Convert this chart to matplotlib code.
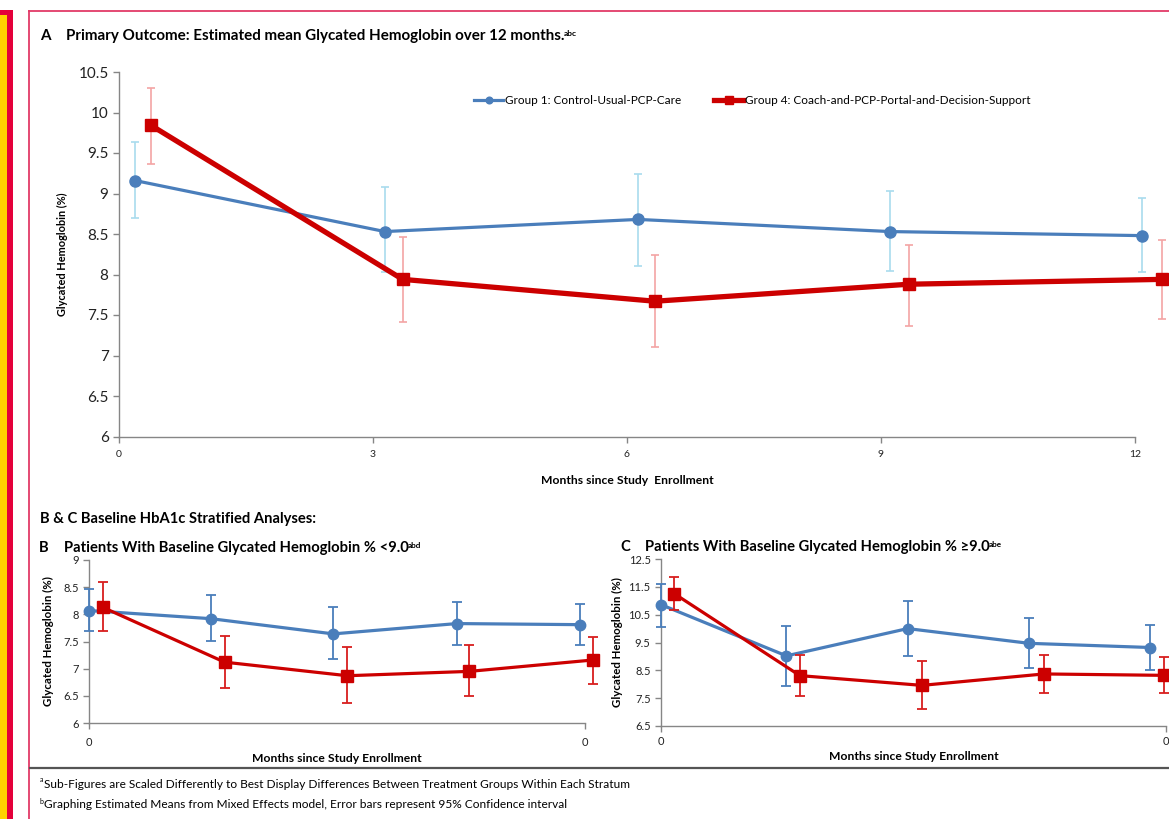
import numpy as np
import matplotlib
matplotlib.use("Agg")
from matplotlib import pyplot as plt
from matplotlib.patches import Rectangle
from matplotlib.lines import Line2D

W = 1169
H = 819
plt.rcParams['font.family'] = ['Lato', 'DejaVu Sans']

# ---------------- data ----------------
Group1_Name = "Group 1: Control-Usual-PCP-Care"
Group4_Name = "Group 4: Coach-and-PCP-Portal-and-Decision-Support"

# Panel A : all patients
monthsA_g1 = [0.19, 3.14, 6.13, 9.11, 12.08]
monthsA_g4 = [0.38, 3.35, 6.33, 9.33, 12.32]
hbaA_g1 = [9.16, 8.53, 8.68, 8.53, 8.48]
loA_g1 = [8.70, 8.03, 8.10, 8.04, 8.03]
hiA_g1 = [9.64, 9.08, 9.24, 9.03, 8.94]
hbaA_g4 = [9.84, 7.94, 7.67, 7.88, 7.94]
loA_g4 = [9.36, 7.41, 7.10, 7.37, 7.45]
hiA_g4 = [10.30, 8.46, 8.24, 8.36, 8.42]
ticksA = [0, 3, 6, 9, 12]

# Panel B : baseline HbA1c < 9.0
monthsB_g1 = [0.0, 2.95, 5.91, 8.90, 11.88]
monthsB_g4 = [0.33, 3.28, 6.25, 9.20, 12.20]
hbaB_g1 = [8.07, 7.92, 7.64, 7.83, 7.81]
loB_g1 = [7.69, 7.51, 7.18, 7.43, 7.43]
hiB_g1 = [8.46, 8.36, 8.13, 8.23, 8.19]
hbaB_g4 = [8.13, 7.12, 6.87, 6.95, 7.16]
loB_g4 = [7.70, 6.65, 6.37, 6.50, 6.71]
hiB_g4 = [8.59, 7.60, 7.40, 7.44, 7.59]

# Panel C : baseline HbA1c >= 9.0
monthsC_g1 = [0.0, 2.98, 5.86, 8.75, 11.63]
monthsC_g4 = [0.32, 3.30, 6.20, 9.10, 11.95]
hbaC_g1 = [10.86, 9.02, 10.00, 9.47, 9.32]
loC_g1 = [10.04, 7.93, 9.00, 8.58, 8.52]
hiC_g1 = [11.61, 10.10, 10.98, 10.39, 10.12]
hbaC_g4 = [11.25, 8.31, 7.96, 8.37, 8.32]
loC_g4 = [10.66, 7.59, 7.12, 7.69, 7.69]
hiC_g4 = [11.85, 9.06, 8.84, 9.06, 8.98]

ticksBC = [0, 12]
ticklabelsBC = ["0", "0"]
#############################################################

blue = "#4a7ebb"
red = "#cc0000"
gray = "#868686"


def fx(x):
      return x / W


def fy(y):
      return 1 - y / H


def errs(vals, lo, hi):
      vals = np.array(vals)
      return [vals - np.array(lo), np.array(hi) - vals]


def style_axes(ax):
      for s in ["top", "right"]:
            ax.spines[s].set_visible(False)
      for s in ["left", "bottom"]:
            ax.spines[s].set_color(gray)
            ax.spines[s].set_linewidth(1.0)
      ax.tick_params(colors=gray, length=4, width=1)
      ax.tick_params(labelcolor="#222222")


def add_title(fig, x, y, letter, txt, sup, size, gap=26):
      fig.text(fx(x), fy(y), letter, fontsize=size, fontweight="bold", va="center", ha="left")
      t = fig.text(fx(x + gap), fy(y), txt, fontsize=size, fontweight="bold", va="center", ha="left")
      plt.annotate(sup, xy=(1, 1), xycoords=t, xytext=(-0.5, -0.5), textcoords="offset points",
                   fontsize=size * 0.55, fontweight="bold", va="top", ha="left")


fig = plt.figure(figsize=(W / 100, H / 100), dpi=100)

# page decoration on the left and the frame of the figure
fig.patches.append(Rectangle((0, fy(H)), fx(13), fy(10) - fy(H), transform=fig.transFigure,
                             facecolor="#e4003a", edgecolor="none"))
fig.patches.append(Rectangle((0, fy(H)), fx(7), fy(15) - fy(H), transform=fig.transFigure,
                             facecolor="#ffd200", edgecolor="none"))
fig.lines.append(Line2D([fx(29), fx(29)], [fy(11), 0], transform=fig.transFigure, color="#e23a68", lw=1.3))
fig.lines.append(Line2D([fx(29), 1], [fy(11), fy(11)], transform=fig.transFigure, color="#e23a68", lw=1.3))
fig.lines.append(Line2D([fx(30), 1], [fy(768), fy(768)], transform=fig.transFigure, color="#555555", lw=1.6))

# ---------------- Panel A ----------------
axA = fig.add_axes([fx(119), fy(436.5), fx(1135 - 119), fy(72) - fy(436.5)])
axA.errorbar(monthsA_g1, hbaA_g1, yerr=errs(hbaA_g1, loA_g1, hiA_g1), fmt="none",
             ecolor="#a9dcee", elinewidth=1.2, capsize=3, capthick=1.2, zorder=1, clip_on=False)
axA.errorbar(monthsA_g4, hbaA_g4, yerr=errs(hbaA_g4, loA_g4, hiA_g4), fmt="none",
             ecolor="#f4a4a4", elinewidth=1.2, capsize=3, capthick=1.2, zorder=1, clip_on=False)
axA.plot(monthsA_g1, hbaA_g1, "-o", color=blue, lw=2.3, ms=8, label=Group1_Name, zorder=3, clip_on=False)
axA.plot(monthsA_g4, hbaA_g4, "-s", color=red, lw=3.8, ms=9, label=Group4_Name, zorder=4, clip_on=False)
axA.set_xlim(0, 12)
axA.set_ylim(6, 10.5)
axA.set_xticks(ticksA)
axA.set_yticks(np.arange(6, 10.51, 0.5))
axA.set_yticklabels(["%g" % v for v in np.arange(6, 10.51, 0.5)], fontsize=11)
axA.set_xticklabels([str(t) for t in ticksA], fontsize=7.5)
style_axes(axA)
axA.tick_params(axis="x", pad=6)
axA.set_xlabel("Months since Study  Enrollment", fontsize=8.7, fontweight="bold", labelpad=11)
axA.set_ylabel("Glycated Hemoglobin (%)", fontsize=7.9, fontweight="bold")
axA.yaxis.set_label_coords(-0.050, 0.5)
leg = axA.legend(loc="center", bbox_to_anchor=(fx(752), fy(101)), bbox_transform=fig.transFigure,
                 ncol=2, frameon=False, fontsize=8.5, handlelength=2.5, handletextpad=0.1,
                 columnspacing=2.8, markerscale=0.6)

add_title(fig, 40, 36, "A", "Primary Outcome: Estimated mean Glycated Hemoglobin over 12 months.", "abc", 10.9)
fig.text(fx(40), fy(519), "B & C Baseline HbA1c Stratified Analyses:", fontsize=10.6, fontweight="bold",
         va="center", ha="left")
add_title(fig, 39, 548, "B", "Patients With Baseline Glycated Hemoglobin % <9.0", "abd", 10.6, gap=25)
add_title(fig, 620, 547, "C", "Patients With Baseline Glycated Hemoglobin % \u22659.0", "abe", 10.6, gap=25)

# ---------------- Panels B and C ----------------
panels = [
      ([fx(89), fy(723), fx(585 - 89), fy(560) - fy(723)], (6, 9), np.arange(6, 9.01, 0.5), 6, 4, -0.071,
       monthsB_g1, hbaB_g1, loB_g1, hiB_g1, monthsB_g4, hbaB_g4, loB_g4, hiB_g4),
      ([fx(661), fy(726), fx(1166 - 661), fy(559) - fy(726)], (6.5, 12.5), np.arange(6.5, 12.51, 1.0), 3, 3, -0.075,
       monthsC_g1, hbaC_g1, loC_g1, hiC_g1, monthsC_g4, hbaC_g4, loC_g4, hiC_g4),
]
for rect, ylim, yt, tpad, lpad, ylab_x, x1, y1, lo1, hi1, x4, y4, lo4, hi4 in panels:
      ax = fig.add_axes(rect)
      ax.errorbar(x1, y1, yerr=errs(y1, lo1, hi1), fmt="-o", color=blue, ecolor=blue, lw=2.3, ms=7.5,
                  elinewidth=1.3, capsize=3.5, capthick=1.3, zorder=3, clip_on=False)
      ax.errorbar(x4, y4, yerr=errs(y4, lo4, hi4), fmt="-s", color=red, ecolor="#d81e1e", lw=2.3, ms=8,
                  elinewidth=1.3, capsize=3.5, capthick=1.3, zorder=4, clip_on=False)
      ax.set_xlim(0, 12)
      ax.set_ylim(*ylim)
      ax.set_xticks(ticksBC)
      ax.set_xticklabels(ticklabelsBC, fontsize=8)
      ax.set_yticks(yt)
      ax.set_yticklabels(["%g" % v for v in yt], fontsize=8)
      style_axes(ax)
      ax.tick_params(axis="x", pad=tpad)
      ax.set_xlabel("Months since Study Enrollment", fontsize=8.7, fontweight="bold", labelpad=lpad)
      ax.set_ylabel("Glycated Hemoglobin (%)", fontsize=8.3, fontweight="bold")
      ax.yaxis.set_label_coords(ylab_x, 0.5)

# ---------------- footnotes ----------------
fig.text(fx(40), fy(780), "a", fontsize=5, va="center", ha="left")
fig.text(fx(44), fy(784), "Sub-Figures are Scaled Differently to Best Display Differences Between Treatment Groups Within Each Stratum",
         fontsize=8.6, va="center", ha="left")
fig.text(fx(40), fy(801), "b", fontsize=5, va="center", ha="left")
fig.text(fx(44), fy(805), "Graphing Estimated Means from Mixed Effects model, Error bars represent 95% Confidence interval",
         fontsize=8.6, va="center", ha="left")

fig.savefig("out.png", dpi=100)
